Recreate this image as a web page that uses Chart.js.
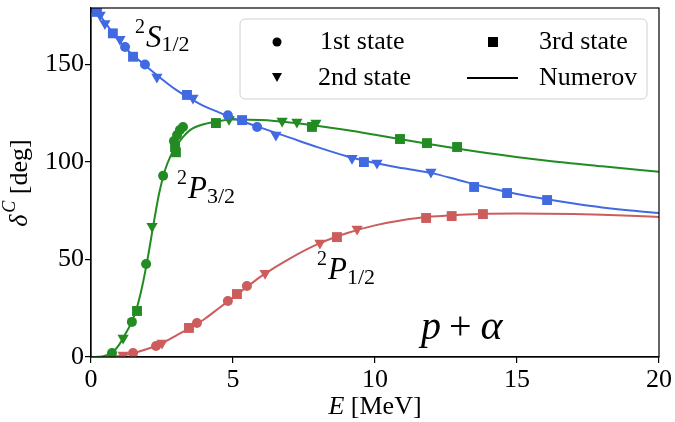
<!DOCTYPE html>
<html><head><meta charset="utf-8">
<script src="https://cdn.jsdelivr.net/npm/chart.js@4/dist/chart.umd.min.js"></script>
<style>html,body{margin:0;padding:0;background:#fff}</style>
</head><body>
<canvas id="c" width="675" height="422"></canvas>
<script>
const xTicks = [0, 5, 10, 15, 20];
const yTicks = [0, 50, 100, 150];

// 2S1/2 (blue)
const sE1 = [1.20, 1.90, 4.82, 5.85];
const sD1 = [159, 150, 124, 118];
const sE2 = [0.32, 0.49, 1.02, 2.32, 3.59, 6.51, 9.19, 10.07, 11.97];
const sD2 = [175.4, 171, 163, 143.6, 132.8, 113.8, 102, 99.5, 94.9];
const sE3 = [0.14, 0.21, 0.77, 1.48, 3.38, 5.32, 9.61, 13.49, 14.65, 16.06];
const sD3 = [179, 177, 166, 154, 134.4, 121.5, 100, 87.2, 84.1, 80.5];
const sCurveE = [0, 0.25, 0.5, 0.75, 1.0, 1.25, 1.5, 2, 2.5, 3, 3.5, 4, 4.5, 5, 5.5, 6, 7, 8, 9, 10, 11, 12, 13, 14, 15, 16, 17, 18, 19, 20];
const sCurveD = [181, 176.5, 171.5, 166.5, 162, 158, 154.5, 148.5, 142.5, 137, 132.5, 128.5, 125.5, 122.5, 120, 117.5, 112.5, 107.5, 103, 99.5, 96.8, 94.3, 90.5, 86.8, 83.6, 81, 78.7, 76.7, 75.1, 73.8];

// 2P3/2 (green)
const p3E1 = [0.74, 1.44, 1.94, 2.54, 2.92, 3.03, 3.13, 3.24];
const p3D1 = [2, 18, 47.7, 93, 110.8, 113.8, 116.4, 118];
const p3E2 = [1.13, 2.15, 4.86, 6.73, 7.25, 7.92];
const p3D2 = [9.7, 67, 122, 121, 120.5, 120];
const p3E3 = [1.62, 2.96, 2.99, 4.40, 7.78, 10.88, 11.83, 12.89];
const p3D3 = [23.6, 107.7, 105, 120, 118, 111.8, 109.7, 107.7];
const p3CurveE = [0, 0.4, 0.6, 0.8, 1.0, 1.2, 1.4, 1.6, 1.8, 2.0, 2.2, 2.4, 2.6, 2.8, 3.0, 3.25, 3.5, 4, 4.5, 5, 6, 7, 8, 9, 10, 12, 14, 16, 18, 20];
const p3CurveD = [0, 0.3, 1.2, 3, 6.5, 11.5, 17, 24.5, 36, 51, 68, 84, 95.5, 103, 108, 113, 116.5, 119.5, 121, 121.8, 121.5, 120.3, 118.5, 116.4, 114, 109, 104.5, 100.8, 97.8, 95];

// 2P1/2 (red)
const p1E1 = [1.48, 2.29, 3.73, 4.82, 5.49];
const p1D1 = [2, 5.6, 17.4, 28.7, 36.4];
const p1E2 = [1.13, 2.5, 6.13, 8.06, 9.37];
const p1D2 = [1, 7.2, 43, 58.5, 65.6];
const p1E3 = [3.45, 5.14, 8.66, 11.8, 12.7, 13.8];
const p1D3 = [14.9, 32.3, 61.5, 71.3, 72.3, 73.3];
const p1CurveE = [0, 0.5, 1, 1.5, 2, 2.5, 3, 3.5, 4, 4.5, 5, 5.5, 6, 7, 8, 9, 10, 11, 12, 13, 14, 15, 16, 17, 18, 19, 20];
const p1CurveD = [0, 0, 0.5, 2, 4.2, 7, 11, 15, 19.5, 25, 30.5, 36, 41.5, 50.5, 58, 63.5, 67.5, 70.3, 72, 73, 73.5, 73.6, 73.5, 73.3, 73, 72.5, 71.8];

const BLUE = '#4169E1', GREEN = '#228B22', RED = '#CD5C5C';
const FONT = "'Liberation Serif', 'DejaVu Serif', serif";

function pts(E, D) { return E.map((e, i) => ({x: e, y: D[i]})); }
function marker(E, D, color, style) {
  const base = {data: pts(E, D), backgroundColor: color, borderColor: color, borderWidth: 0, showLine: false, order: 1};
  if (style === 'circle') return Object.assign(base, {pointStyle: 'circle', pointRadius: 5, pointHoverRadius: 5});
  if (style === 'tri') return Object.assign(base, {pointStyle: 'triangle', rotation: 180, pointRadius: 6.5, pointHoverRadius: 6.5});
  return Object.assign(base, {pointStyle: 'rect', pointRadius: 7, pointHoverRadius: 7});
}
function curve(E, D, color) {
  return {data: pts(E, D), borderColor: color, backgroundColor: color, borderWidth: 2, showLine: true, pointRadius: 0, cubicInterpolationMode: 'monotone', order: 2};
}

function drawRich(ctx, x, y, parts) {
  let cx = x;
  for (const p of parts) {
    ctx.font = p.f;
    ctx.fillText(p.t, cx + (p.dx || 0), y + (p.dy || 0));
    cx += ctx.measureText(p.t).width + (p.dx || 0) + (p.after || 0);
  }
}

const framePlugin = {
  id: 'frame',
  afterDatasetsDraw(chart) {
    const {ctx, chartArea: a} = chart;
    ctx.save();
    ctx.strokeStyle = '#000';
    ctx.lineWidth = 1.2;
    ctx.strokeRect(a.left, a.top, a.right - a.left, a.bottom - a.top);
    ctx.restore();
  },
  afterDraw(chart) {
    const {ctx} = chart;
    ctx.save();
    ctx.fillStyle = '#000';
    ctx.textBaseline = 'alphabetic';
    ctx.textAlign = 'left';
    // annotations
    drawRich(ctx, 135, 47, [
      {t: '2', f: `20px ${FONT}`, dy: -14, after: 1},
      {t: 'S', f: `italic 31px ${FONT}`, after: 0},
      {t: '1/2', f: `22px ${FONT}`, dy: 4}
    ]);
    drawRich(ctx, 177, 198, [
      {t: '2', f: `20px ${FONT}`, dy: -14, after: 1},
      {t: 'P', f: `italic 31px ${FONT}`, after: 0},
      {t: '3/2', f: `22px ${FONT}`, dy: 5}
    ]);
    drawRich(ctx, 317, 279, [
      {t: '2', f: `20px ${FONT}`, dy: -14, after: 1},
      {t: 'P', f: `italic 31px ${FONT}`, after: 0},
      {t: '1/2', f: `22px ${FONT}`, dy: 5}
    ]);
    drawRich(ctx, 421, 339, [
      {t: 'p', f: `italic 40px ${FONT}`, after: 8},
      {t: '+', f: `40px ${FONT}`, after: 9},
      {t: 'α', f: `italic 42px ${FONT}`}
    ]);
    // x axis title
    ctx.font = `italic 26px ${FONT}`;
    const w1 = ctx.measureText('E').width;
    ctx.font = `26px ${FONT}`;
    const w2 = ctx.measureText(' [MeV]').width;
    const xs = 375 - (w1 + w2) / 2;
    drawRich(ctx, xs, 414, [
      {t: 'E', f: `italic 26px ${FONT}`},
      {t: ' [MeV]', f: `26px ${FONT}`}
    ]);
    // y axis title
    ctx.save();
    ctx.translate(27, 183);
    ctx.rotate(-Math.PI / 2);
    ctx.font = `italic 26px ${FONT}`;
    const a1 = ctx.measureText('δ').width;
    ctx.font = `italic 18px ${FONT}`;
    const a2 = ctx.measureText('C').width;
    ctx.font = `26px ${FONT}`;
    const a3 = ctx.measureText(' [deg]').width;
    drawRich(ctx, -(a1 + a2 + a3 + 2) / 2, 0, [
      {t: 'δ', f: `italic 26px ${FONT}`, after: 2},
      {t: 'C', f: `italic 18px ${FONT}`, dy: -12},
      {t: ' [deg]', f: `26px ${FONT}`}
    ]);
    ctx.restore();
    // legend
    const bx = 240, by = 19, bw = 407, bh = 80;
    ctx.beginPath();
    ctx.roundRect(bx, by, bw, bh, 5);
    ctx.fillStyle = 'rgba(255,255,255,0.85)';
    ctx.fill();
    ctx.strokeStyle = '#d0d0d0';
    ctx.lineWidth = 1;
    ctx.stroke();
    ctx.fillStyle = '#000';
    ctx.beginPath(); ctx.arc(277, 42, 4.5, 0, Math.PI * 2); ctx.fill();
    ctx.fillRect(488, 37, 10, 10);
    ctx.beginPath(); ctx.moveTo(272, 73); ctx.lineTo(282, 73); ctx.lineTo(277, 82); ctx.closePath(); ctx.fill();
    ctx.strokeStyle = '#000'; ctx.lineWidth = 2;
    ctx.beginPath(); ctx.moveTo(467, 78); ctx.lineTo(518, 78); ctx.stroke();
    ctx.font = `26px ${FONT}`;
    ctx.fillText('1st state', 320, 49);
    ctx.fillText('3rd state', 539, 49);
    ctx.fillText('2nd state', 318, 85);
    ctx.fillText('Numerov', 539, 85);
    ctx.restore();
  }
};

new Chart(document.getElementById('c'), {
  type: 'scatter',
  data: {
    datasets: [
      curve(sCurveE, sCurveD, BLUE),
      curve(p3CurveE, p3CurveD, GREEN),
      curve(p1CurveE, p1CurveD, RED),
      marker(sE1, sD1, BLUE, 'circle'),
      marker(sE2, sD2, BLUE, 'tri'),
      marker(sE3, sD3, BLUE, 'rect'),
      marker(p3E1, p3D1, GREEN, 'circle'),
      marker(p3E2, p3D2, GREEN, 'tri'),
      marker(p3E3, p3D3, GREEN, 'rect'),
      marker(p1E1, p1D1, RED, 'circle'),
      marker(p1E2, p1D2, RED, 'tri'),
      marker(p1E3, p1D3, RED, 'rect')
    ]
  },
  options: {
    responsive: false,
    animation: false,
    devicePixelRatio: 1,
    layout: {padding: {left: 0, right: 16, top: 8, bottom: 0}},
    plugins: {legend: {display: false}, tooltip: {enabled: false}},
    scales: {
      x: {
        type: 'linear', min: 0, max: 20,
        afterBuildTicks: s => { s.ticks = xTicks.map(v => ({value: v})); },
        afterFit: s => { s.height = 65; s.paddingLeft = 0; s.paddingRight = 0; },
        ticks: {color: '#000', font: {family: FONT, size: 26}, padding: 2, maxRotation: 0},
        grid: {drawOnChartArea: false, drawTicks: true, tickLength: 6, color: '#000', lineWidth: 1.2},
        border: {display: true, color: '#000', width: 1.2}
      },
      y: {
        type: 'linear', min: 0, max: 179,
        afterBuildTicks: s => { s.ticks = yTicks.map(v => ({value: v})); },
        afterFit: s => { s.width = 91; s.paddingTop = 0; s.paddingBottom = 0; },
        ticks: {color: '#000', font: {family: FONT, size: 26}, padding: 1},
        grid: {drawOnChartArea: false, drawTicks: true, tickLength: 6, color: '#000', lineWidth: 1.2},
        border: {display: true, color: '#000', width: 1.2}
      }
    }
  },
  plugins: [framePlugin]
});
</script>
</body></html>
